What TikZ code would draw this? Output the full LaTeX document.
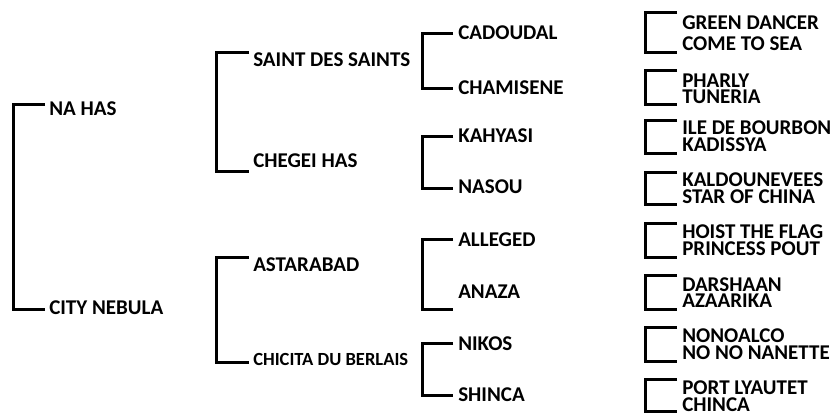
\documentclass[tikz,border=0pt]{standalone}
\usepackage{fontspec}
\setmainfont{Carlito}
\begin{document}
\begin{tikzpicture}[x=0.75pt,y=-0.75pt,
  nm/.style={anchor=west, inner sep=0pt, text height=10.1pt, text depth=0pt,
    font=\bfseries\fontsize{15.75}{17}\selectfont},
  nmsmall/.style={nm, text height=8.95pt, font=\bfseries\fontsize{13.9}{15}\selectfont},
  br/.style={line width=2.25pt, line join=miter}]
\useasboundingbox (0,0) rectangle (835,412);

% generation 1
\node[nm] (nahas) at (49,109) {NA HAS};
\node[nm] (city) at (49,308) {CITY NEBULA};
\coordinate (g1t) at (45,104); \coordinate (g1b) at (45,309);
\draw[br] (g1t) -- ++(-32,0) |- (g1b);

% generation 2
\node[nm] (sds) at (253,59.5) {SAINT DES SAINTS};
\node[nm] (chegei) at (253,161) {CHEGEI HAS};
\coordinate (g2at) at (249,52); \coordinate (g2ab) at (249,171);
\draw[br] (g2at) -- ++(-33,0) |- (g2ab);

\node[nm] (astara) at (253,265) {ASTARABAD};
\node[nmsmall] (chicita) at (253,360) {CHICITA DU BERLAIS};
\coordinate (g2bt) at (249,257); \coordinate (g2bb) at (249,362);
\draw[br] (g2bt) -- ++(-33,0) |- (g2bb);

% generation 3
\node[nm] (cadoudal) at (458,33) {CADOUDAL};
\node[nm] (chamisene) at (458,88) {CHAMISENE};
\coordinate (g3at) at (453,33); \coordinate (g3ab) at (453,88);
\draw[br] (g3at) -- ++(-31,0) |- (g3ab);

\node[nm] (kahyasi) at (458,136) {KAHYASI};
\node[nm] (nasou) at (458,187) {NASOU};
\coordinate (g3bt) at (453,136); \coordinate (g3bb) at (453,188);
\draw[br] (g3bt) -- ++(-31,0) |- (g3bb);

\node[nm] (alleged) at (458,239.5) {ALLEGED};
\node[nm] (anaza) at (458,292) {ANAZA};
\coordinate (g3ct) at (453,239); \coordinate (g3cb) at (453,309);
\draw[br] (g3ct) -- ++(-31,0) |- (g3cb);

\node[nm] (nikos) at (458,344) {NIKOS};
\node[nm] (shinca) at (458,395) {SHINCA};
\coordinate (g3dt) at (453,343); \coordinate (g3db) at (453,395);
\draw[br] (g3dt) -- ++(-31,0) |- (g3db);

% generation 4
\node[nm] (green) at (682,23) {GREEN DANCER};
\node[nm] (come) at (682,43.5) {COME TO SEA};
\coordinate (g4at) at (677,12); \coordinate (g4ab) at (677,52);
\draw[br] (g4at) -- ++(-32,0) |- (g4ab);

\node[nm] (pharly) at (682,81) {PHARLY};
\node[nm] (tuneria) at (682,97) {TUNERIA};
\coordinate (g4bt) at (677,70.5); \coordinate (g4bb) at (677,104.5);
\draw[br] (g4bt) -- ++(-32,0) |- (g4bb);

\node[nm] (ile) at (682,128) {ILE DE BOURBON};
\node[nm] (kadissya) at (682,145) {KADISSYA};
\coordinate (g4ct) at (677,120.5); \coordinate (g4cb) at (677,153.3);
\draw[br] (g4ct) -- ++(-32,0) |- (g4cb);

\node[nm] (kaldoun) at (682,180) {KALDOUNEVEES};
\node[nm] (star) at (682,197) {STAR OF CHINA};
\coordinate (g4dt) at (677,172.3); \coordinate (g4db) at (677,204);
\draw[br] (g4dt) -- ++(-32,0) |- (g4db);

\node[nm] (hoist) at (682,232) {HOIST THE FLAG};
\node[nm] (princess) at (682,249) {PRINCESS POUT};
\coordinate (g4et) at (677,223.3); \coordinate (g4eb) at (677,257.3);
\draw[br] (g4et) -- ++(-32,0) |- (g4eb);

\node[nm] (darshaan) at (682,284.5) {DARSHAAN};
\node[nm] (azaarika) at (682,301) {AZAARIKA};
\coordinate (g4ft) at (677,275); \coordinate (g4fb) at (677,309.3);
\draw[br] (g4ft) -- ++(-32,0) |- (g4fb);

\node[nm] (nonoalco) at (682,335.5) {NONOALCO};
\node[nm] (nonanette) at (682,353) {NO NO NANETTE};
\coordinate (g4gt) at (677,327.3); \coordinate (g4gb) at (677,361.7);
\draw[br] (g4gt) -- ++(-32,0) |- (g4gb);

\node[nm] (port) at (682,388) {PORT LYAUTET};
\node[nm] (chinca) at (682,404.5) {CHINCA};
\coordinate (g4ht) at (677,379.3); \coordinate (g4hb) at (677,411.5);
\draw[br] (g4ht) -- ++(-32,0) |- (g4hb);
\end{tikzpicture}
\end{document}
